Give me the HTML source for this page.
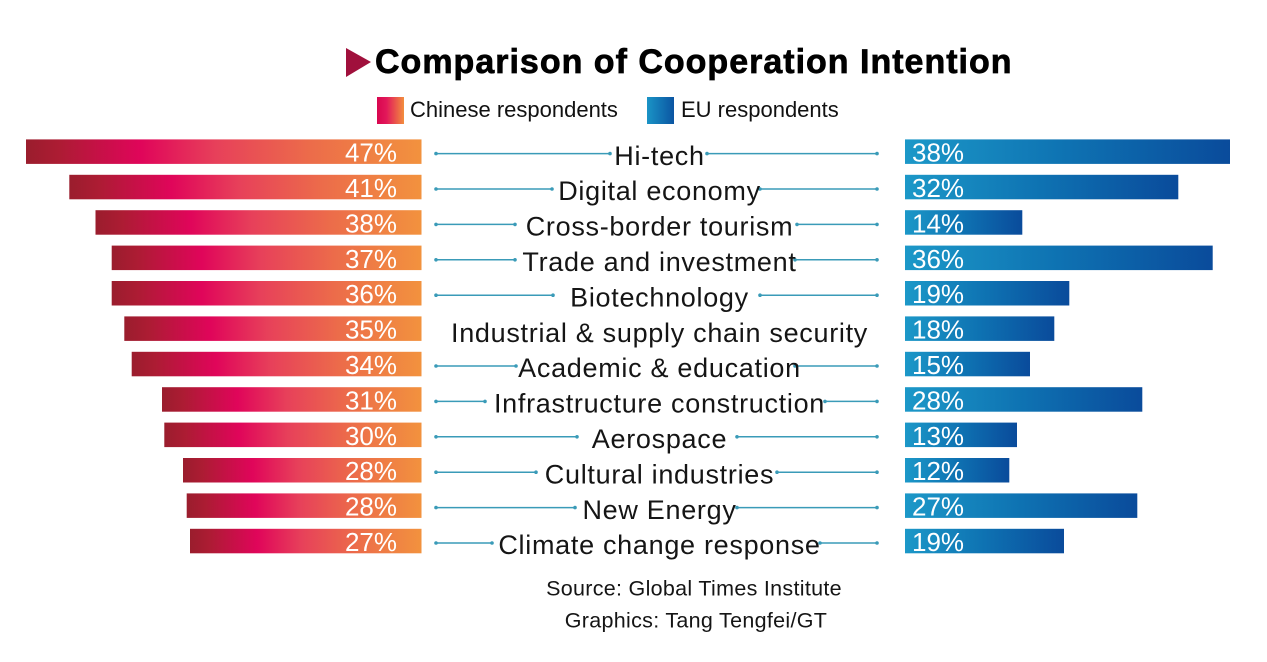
<!DOCTYPE html>
<html>
<head>
<meta charset="utf-8">
<style>
html,body{margin:0;padding:0;background:#fff;}
body{width:1267px;height:662px;overflow:hidden;}
svg{display:block;}
.t{font-family:"Liberation Sans",sans-serif;}
</style>
</head>
<body>
<svg width="1267" height="662" viewBox="0 0 1267 662" xmlns="http://www.w3.org/2000/svg">
<defs>
<linearGradient id="gr" x1="0" y1="0" x2="1" y2="0">
<stop offset="0" stop-color="#9a1d2d"/>
<stop offset="0.08" stop-color="#ac1c33"/>
<stop offset="0.29" stop-color="#e0055a"/>
<stop offset="0.48" stop-color="#e7405a"/>
<stop offset="0.72" stop-color="#ec6c4a"/>
<stop offset="1" stop-color="#f2923e"/>
</linearGradient>
<linearGradient id="gb" x1="0" y1="0" x2="1" y2="0">
<stop offset="0" stop-color="#1c98c8"/>
<stop offset="0.5" stop-color="#0e72b2"/>
<stop offset="1" stop-color="#0a4b9b"/>
</linearGradient>
<linearGradient id="lr" x1="0" y1="0" x2="1" y2="0">
<stop offset="0" stop-color="#d8064f"/>
<stop offset="0.35" stop-color="#e2185a"/>
<stop offset="1" stop-color="#f28e3e"/>
</linearGradient>
<linearGradient id="lb" x1="0" y1="0" x2="1" y2="0">
<stop offset="0" stop-color="#1a94c6"/>
<stop offset="1" stop-color="#0b55a2"/>
</linearGradient>
</defs>

<!-- Title -->
<polygon points="346,48 371,62 346,77" fill="#a0103c"/>
<text class="t" x="375" y="73" font-size="34" font-weight="bold" letter-spacing="1" fill="#000" stroke="#000" stroke-width="0.7">Comparison of Cooperation Intention</text>

<!-- Legend -->
<rect x="377" y="97" width="27" height="27" fill="url(#lr)"/>
<text class="t" x="410" y="117" font-size="22" fill="#111">Chinese respondents</text>
<rect x="647" y="97" width="27" height="27" fill="url(#lb)"/>
<text class="t" x="681" y="117" font-size="22" fill="#111">EU respondents</text>

<!-- Left bars -->
<g fill="url(#gr)">
<rect x="26" y="139.4" width="395.5" height="24.5"/>
<rect x="69.3" y="174.8" width="352.2" height="24.5"/>
<rect x="95.5" y="210.2" width="326" height="24.5"/>
<rect x="111.7" y="245.6" width="309.8" height="24.5"/>
<rect x="111.7" y="281" width="309.8" height="24.5"/>
<rect x="124.3" y="316.4" width="297.2" height="24.5"/>
<rect x="131.7" y="351.8" width="289.8" height="24.5"/>
<rect x="162" y="387.2" width="259.5" height="24.5"/>
<rect x="164.3" y="422.6" width="257.2" height="24.5"/>
<rect x="183" y="458" width="238.5" height="24.5"/>
<rect x="186.7" y="493.4" width="234.8" height="24.5"/>
<rect x="190" y="528.8" width="231.5" height="24.5"/>
</g>

<!-- Right bars -->
<g fill="url(#gb)">
<rect x="905" y="139.4" width="325" height="24.5"/>
<rect x="905" y="174.8" width="273.3" height="24.5"/>
<rect x="905" y="210.2" width="117.3" height="24.5"/>
<rect x="905" y="245.6" width="307.7" height="24.5"/>
<rect x="905" y="281" width="164.3" height="24.5"/>
<rect x="905" y="316.4" width="149.3" height="24.5"/>
<rect x="905" y="351.8" width="125" height="24.5"/>
<rect x="905" y="387.2" width="237.3" height="24.5"/>
<rect x="905" y="422.6" width="112" height="24.5"/>
<rect x="905" y="458" width="104.3" height="24.5"/>
<rect x="905" y="493.4" width="232.3" height="24.5"/>
<rect x="905" y="528.8" width="159" height="24.5"/>
</g>

<!-- Left percentages -->
<g class="t" font-size="26" fill="#fff" text-anchor="end">
<text x="397" y="161.6" class="t">47%</text>
<text x="397" y="197" class="t">41%</text>
<text x="397" y="232.4" class="t">38%</text>
<text x="397" y="267.8" class="t">37%</text>
<text x="397" y="303.2" class="t">36%</text>
<text x="397" y="338.6" class="t">35%</text>
<text x="397" y="374" class="t">34%</text>
<text x="397" y="409.4" class="t">31%</text>
<text x="397" y="444.8" class="t">30%</text>
<text x="397" y="480.2" class="t">28%</text>
<text x="397" y="515.6" class="t">28%</text>
<text x="397" y="551" class="t">27%</text>
</g>

<!-- Right percentages -->
<g class="t" font-size="26" fill="#fff">
<text x="912" y="161.6" class="t">38%</text>
<text x="912" y="197" class="t">32%</text>
<text x="912" y="232.4" class="t">14%</text>
<text x="912" y="267.8" class="t">36%</text>
<text x="912" y="303.2" class="t">19%</text>
<text x="912" y="338.6" class="t">18%</text>
<text x="912" y="374" class="t">15%</text>
<text x="912" y="409.4" class="t">28%</text>
<text x="912" y="444.8" class="t">13%</text>
<text x="912" y="480.2" class="t">12%</text>
<text x="912" y="515.6" class="t">27%</text>
<text x="912" y="551" class="t">19%</text>
</g>

<!-- Connector lines -->
<g stroke="#3a9bb8" stroke-width="1.5">
<line x1="436" y1="153.6" x2="610" y2="153.6"/><line x1="707" y1="153.6" x2="877" y2="153.6"/>
<line x1="436" y1="189" x2="552" y2="189"/><line x1="760" y1="189" x2="877" y2="189"/>
<line x1="436" y1="224.4" x2="515" y2="224.4"/><line x1="797" y1="224.4" x2="877" y2="224.4"/>
<line x1="436" y1="259.8" x2="515" y2="259.8"/><line x1="795" y1="259.8" x2="877" y2="259.8"/>
<line x1="436" y1="295.2" x2="553" y2="295.2"/><line x1="760" y1="295.2" x2="877" y2="295.2"/>
<line x1="436" y1="366" x2="516" y2="366"/><line x1="795" y1="366" x2="877" y2="366"/>
<line x1="436" y1="401.4" x2="485" y2="401.4"/><line x1="825" y1="401.4" x2="877" y2="401.4"/>
<line x1="436" y1="436.8" x2="577" y2="436.8"/><line x1="737" y1="436.8" x2="877" y2="436.8"/>
<line x1="436" y1="472.2" x2="536" y2="472.2"/><line x1="777" y1="472.2" x2="877" y2="472.2"/>
<line x1="436" y1="507.6" x2="575" y2="507.6"/><line x1="737" y1="507.6" x2="877" y2="507.6"/>
<line x1="436" y1="543" x2="492" y2="543"/><line x1="820" y1="543" x2="877" y2="543"/>
</g>
<g fill="#3a9bb8">
<circle cx="436" cy="153.6" r="1.8"/><circle cx="610" cy="153.6" r="1.8"/><circle cx="707" cy="153.6" r="1.8"/><circle cx="877" cy="153.6" r="1.8"/>
<circle cx="436" cy="189" r="1.8"/><circle cx="552" cy="189" r="1.8"/><circle cx="760" cy="189" r="1.8"/><circle cx="877" cy="189" r="1.8"/>
<circle cx="436" cy="224.4" r="1.8"/><circle cx="515" cy="224.4" r="1.8"/><circle cx="797" cy="224.4" r="1.8"/><circle cx="877" cy="224.4" r="1.8"/>
<circle cx="436" cy="259.8" r="1.8"/><circle cx="515" cy="259.8" r="1.8"/><circle cx="795" cy="259.8" r="1.8"/><circle cx="877" cy="259.8" r="1.8"/>
<circle cx="436" cy="295.2" r="1.8"/><circle cx="553" cy="295.2" r="1.8"/><circle cx="760" cy="295.2" r="1.8"/><circle cx="877" cy="295.2" r="1.8"/>
<circle cx="436" cy="366" r="1.8"/><circle cx="516" cy="366" r="1.8"/><circle cx="795" cy="366" r="1.8"/><circle cx="877" cy="366" r="1.8"/>
<circle cx="436" cy="401.4" r="1.8"/><circle cx="485" cy="401.4" r="1.8"/><circle cx="825" cy="401.4" r="1.8"/><circle cx="877" cy="401.4" r="1.8"/>
<circle cx="436" cy="436.8" r="1.8"/><circle cx="577" cy="436.8" r="1.8"/><circle cx="737" cy="436.8" r="1.8"/><circle cx="877" cy="436.8" r="1.8"/>
<circle cx="436" cy="472.2" r="1.8"/><circle cx="536" cy="472.2" r="1.8"/><circle cx="777" cy="472.2" r="1.8"/><circle cx="877" cy="472.2" r="1.8"/>
<circle cx="436" cy="507.6" r="1.8"/><circle cx="575" cy="507.6" r="1.8"/><circle cx="737" cy="507.6" r="1.8"/><circle cx="877" cy="507.6" r="1.8"/>
<circle cx="436" cy="543" r="1.8"/><circle cx="492" cy="543" r="1.8"/><circle cx="820" cy="543" r="1.8"/><circle cx="877" cy="543" r="1.8"/>
</g>

<!-- Category labels -->
<g class="t" font-size="27" fill="#151515" text-anchor="middle" letter-spacing="0.7">
<text x="659.5" y="164.8" class="t">Hi-tech</text>
<text x="659.5" y="200.2" class="t">Digital economy</text>
<text x="659.5" y="235.6" class="t">Cross-border tourism</text>
<text x="659.5" y="271" class="t">Trade and investment</text>
<text x="659.5" y="306.4" class="t">Biotechnology</text>
<text x="659.5" y="341.8" class="t">Industrial &amp; supply chain security</text>
<text x="659.5" y="377.2" class="t">Academic &amp; education</text>
<text x="659.5" y="412.6" class="t">Infrastructure construction</text>
<text x="659.5" y="448" class="t">Aerospace</text>
<text x="659.5" y="483.4" class="t">Cultural industries</text>
<text x="659.5" y="518.8" class="t">New Energy</text>
<text x="659.5" y="554.2" class="t">Climate change response</text>
</g>

<!-- Footer -->
<text class="t" x="694" y="595.5" font-size="21.5" fill="#151515" text-anchor="middle" letter-spacing="0.3">Source: Global Times Institute</text>
<text class="t" x="696" y="627.3" font-size="21.5" fill="#151515" text-anchor="middle" letter-spacing="0.3">Graphics: Tang Tengfei/GT</text>
</svg>
</body>
</html>
